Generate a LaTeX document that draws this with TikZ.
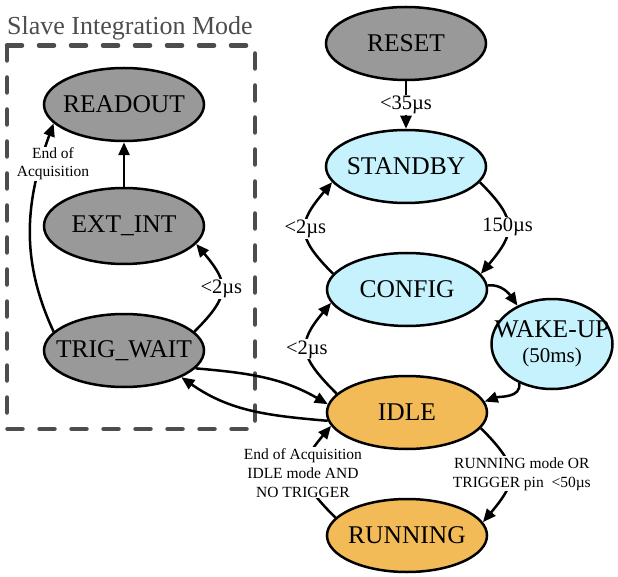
\documentclass[tikz,border=0pt]{standalone}
\usepackage{fontspec}
\setmainfont{Liberation Serif}
\usetikzlibrary{shapes.geometric,arrows.meta}
\definecolor{gfill}{HTML}{999999}
\definecolor{bfill}{HTML}{C6F2FD}
\definecolor{ofill}{HTML}{F2BB57}
\definecolor{boxgray}{HTML}{4D4D4D}
\newcommand{\ztext}[1]{\makebox[0pt][c]{#1}}
\begin{document}
\begin{tikzpicture}[x=1pt,y=1pt,
  st/.style={ellipse, draw=black, line width=2.5pt, inner sep=0pt,
    minimum width=160pt, minimum height=73pt, align=center,
    font=\fontsize{25.5}{28}\selectfont},
  gst/.style={st, fill=gfill},
  bst/.style={st, fill=bfill},
  ost/.style={st, fill=ofill},
  arr/.style={-{Triangle[length=13pt,width=11pt]}, line width=2.5pt},
  lbl/.style={fill=white, inner sep=1pt, font=\fontsize{20.5}{22}\selectfont},
  small/.style={fill=white, inner sep=1pt, align=center, font=\fontsize{15.5}{19}\selectfont}]
\useasboundingbox (0,0) rectangle (618,-577);

% group box
\draw[boxgray, line width=4.5pt, dash pattern=on 15pt off 17pt, line cap=round]
  (7,-45.5) rectangle (255,-429);
\node[anchor=base west, text=boxgray, inner sep=0pt, font=\fontsize{26}{28}\selectfont]
  (title) at (7,-35) {Slave Integration Mode};

% nodes
\node[gst] (reset)   at (406,-43.5) {\ztext{RESET}};
\node[bst] (standby) at (406,-166.5) {\ztext{STANDBY}};
\node[bst] (config)  at (407,-289.5) {\ztext{CONFIG}};
\node[bst, minimum width=121pt, minimum height=90pt] (wakeup) at (552,-344)
  {\ztext{WAKE-UP}\\[-3pt]\ztext{\fontsize{21}{23}\selectfont (50ms)}};
\node[ost] (idle)    at (407,-412.5) {\ztext{IDLE}};
\node[ost] (running) at (407,-535.5) {\ztext{RUNNING}};
\node[gst] (readout) at (124,-104.5) {\ztext{READOUT}};
\node[gst, minimum height=76pt] (extint) at (124,-226) {\ztext{EXT\_INT}};
\node[gst] (trig)    at (124,-350.5) {\ztext{TRIG\_WAIT}};

% edges
\draw[arr] (reset) -- node[lbl]{<35µs} (standby);
\draw[arr] (standby.-12) to[out=-45,in=50,looseness=1.5] node[lbl]{150µs} (config.12);
\draw[arr] (config.168) to[out=135,in=-130,looseness=1.5] node[lbl]{<2µs} (standby.192);
\draw[arr] (idle.165) to[out=135,in=-130,looseness=1.5] node[lbl]{<2µs} (config.190);
\draw[arr] (config.3) to[out=5,in=125] (wakeup.132);
\draw[arr] (wakeup.-130) to[out=-80,in=20] (idle.8);
\draw[arr] (idle.-12) to[out=-45,in=50,looseness=1.5]
  node[small, xshift=12pt]{RUNNING mode OR\\TRIGGER pin~~<50µs} (running.10);
\draw[arr] (running.166) to[out=135,in=-130,looseness=1.5]
  node[small, xshift=-3pt]{End of Acquisition\\IDLE mode AND\\NO TRIGGER} (idle.190);
\draw[arr] (trig.-14) to[out=-5,in=150] (idle.174);
\draw[arr] (idle.186) to[out=175,in=-35] (trig.-25);
\draw[arr] (trig.15) to[out=45,in=-50,looseness=1.5] node[lbl]{<2µs} (extint.-14);
\draw[arr] (extint) -- (readout);
\draw[arr] (trig.165) to[out=115,in=-110] (readout.-165);
\node[small, font=\fontsize{15.5}{18}\selectfont] (eoa) at (53,-164) {End of\\Acquisition};
\end{tikzpicture}
\end{document}
